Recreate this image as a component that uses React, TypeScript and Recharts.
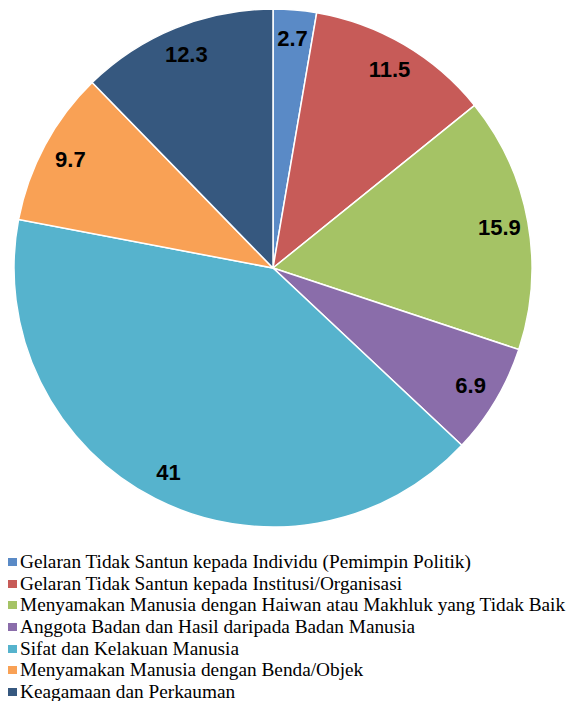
import { PieChart, Pie, Cell } from 'recharts';

const categories = [
  'Gelaran Tidak Santun kepada Individu (Pemimpin Politik)',
  'Gelaran Tidak Santun kepada Institusi/Organisasi',
  'Menyamakan Manusia dengan Haiwan atau Makhluk yang Tidak Baik',
  'Anggota Badan dan Hasil daripada Badan Manusia',
  'Sifat dan Kelakuan Manusia',
  'Menyamakan Manusia dengan Benda/Objek',
  'Keagamaan dan Perkauman',
];
const values = [2.7, 11.5, 15.9, 6.9, 41, 9.7, 12.3];
const colors = ['#5a8ac6', '#c75b58', '#a5c365', '#8a6daa', '#56b3cd', '#f9a155', '#36587f'];

const data = categories.map((name, i) => ({ name, value: values[i] }));

const RAD = Math.PI / 180;

const renderLabel = (props: any) => {
  const { cx, cy, midAngle, value } = props;
  const r = 230;
  const x = cx + r * Math.cos(-midAngle * RAD);
  const y = cy + r * Math.sin(-midAngle * RAD);
  return (
    <text
      x={x}
      y={y}
      textAnchor="middle"
      dominantBaseline="central"
      fill="#000"
      fontFamily="'Liberation Sans', Arial, sans-serif"
      fontWeight="bold"
      fontSize={22}
    >
      {value}
    </text>
  );
};

export default function App() {
  return (
    <div style={{ position: 'absolute', left: 0, top: 0, width: 567, height: 701, background: '#fff', overflow: 'hidden' }}>
      <PieChart width={567} height={545} margin={{ top: 0, right: 0, bottom: 0, left: 0 }}>
        <Pie
          data={data}
          dataKey="value"
          cx={273}
          cy={268}
          outerRadius={259}
          startAngle={90}
          endAngle={-270}
          stroke="#fff"
          strokeWidth={1.5}
          label={renderLabel}
          labelLine={false}
          isAnimationActive={false}
        >
          {data.map((d, i) => (
            <Cell key={d.name} fill={colors[i]} />
          ))}
        </Pie>
      </PieChart>
      <div style={{ position: 'absolute', left: 8, top: 551, fontFamily: "'Liberation Serif', 'Times New Roman', serif", fontSize: 19.3 }}>
        {categories.map((c, i) => (
          <div key={c} style={{ display: 'flex', alignItems: 'center', height: 21.7, whiteSpace: 'nowrap' }}>
            <span style={{ width: 9, height: 8, background: colors[i], marginRight: 3, flexShrink: 0 }} />
            <span>{c}</span>
          </div>
        ))}
      </div>
    </div>
  );
}
